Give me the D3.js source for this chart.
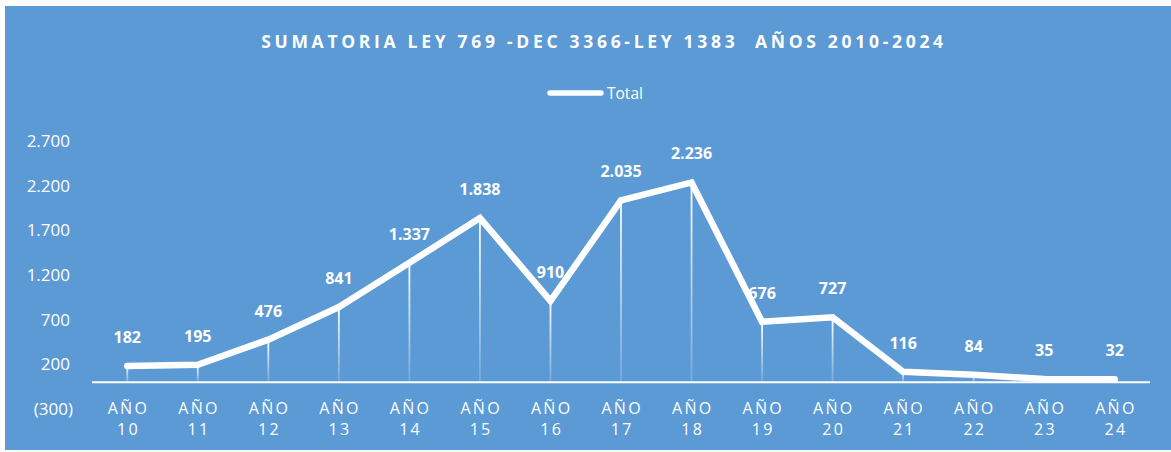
<!DOCTYPE html>
<meta charset="utf-8">
<style>
body { margin: 0; background: #fff; }
text { font-family: "Open Sans", "Noto Sans", sans-serif; fill: #fff; }
.title { font-size: 17.5px; font-weight: 700; letter-spacing: 3.7px; white-space: pre; }
.ylab { font-size: 17px; }
.xlab { font-size: 16px; letter-spacing: 2.3px; }
.dlab { font-size: 16px; font-weight: 700; }
.legend { font-size: 15.5px; }
</style>
<svg width="1171" height="452"></svg>
<script src="https://d3js.org/d3.v7.min.js"></script>
<script>

var categories = ["10","11","12","13","14","15","16","17","18","19","20","21","22","23","24"];
var totals = [182,195,476,841,1337,1838,910,2035,2236,676,727,116,84,35,32];
var yTicks = [-300,200,700,1200,1700,2200,2700];

var svg = d3.select("svg"),
    width = +svg.attr("width"),
    height = +svg.attr("height");

// blue chart area
svg.append("rect")
    .attr("x", 5).attr("y", 6)
    .attr("width", width - 5).attr("height", height - 8)
    .attr("fill", "#5B9AD5");

var x = d3.scaleBand()
    .domain(categories)
    .range([92, 1150]);

var y = d3.scaleLinear()
    .domain([-300, 2700])
    .range([409, 141]);

var fmt = function (v) {
    var s = d3.format(",")(Math.abs(v)).replace(/,/g, ".");
    return v < 0 ? "(" + s + ")" : s;
};

var defs = svg.append("defs");
var grad = defs.append("linearGradient")
    .attr("id", "drop")
    .attr("x1", 0).attr("y1", 0).attr("x2", 0).attr("y2", 1);
grad.append("stop").attr("offset", "0%").attr("stop-color", "#fff").attr("stop-opacity", 1);
grad.append("stop").attr("offset", "100%").attr("stop-color", "#fff").attr("stop-opacity", 0.15);

svg.append("text")
    .attr("class", "title")
    .attr("x", 604).attr("y", 48)
    .attr("text-anchor", "middle")
    .text("SUMATORIA LEY 769 -DEC 3366-LEY 1383  AÑOS 2010-2024");

// legend
svg.append("line")
    .attr("x1", 550).attr("x2", 601)
    .attr("y1", 93).attr("y2", 93)
    .attr("stroke", "#fff").attr("stroke-width", 5.5)
    .attr("stroke-linecap", "round");
svg.append("text")
    .attr("class", "legend")
    .attr("x", 607).attr("y", 99)
    .text("Total");

// y tick labels
svg.append("g").selectAll("text")
    .data(yTicks)
    .enter().append("text")
    .attr("class", "ylab")
    .attr("x", function (d) { return d < 0 ? 73 : 70; })
    .attr("y", function (d) { return y(d) + 6; })
    .attr("text-anchor", "end")
    .text(fmt);

// drop lines
svg.append("g").selectAll("rect")
    .data(totals)
    .enter().append("rect")
    .attr("x", function (d, i) { return x(categories[i]) + x.bandwidth() / 2 - 0.9; })
    .attr("y", function (d) { return y(d); })
    .attr("width", 1.8)
    .attr("height", function (d) { return Math.max(0, y(0) - y(d)); })
    .attr("fill", "url(#drop)");

// x axis line
svg.append("line")
    .attr("x1", 92).attr("x2", 1150)
    .attr("y1", y(0)).attr("y2", y(0))
    .attr("stroke", "#fff").attr("stroke-width", 2);

// x labels
var xl = svg.append("g").selectAll("text")
    .data(categories)
    .enter().append("text")
    .attr("class", "xlab")
    .attr("text-anchor", "middle");
xl.append("tspan")
    .attr("x", function (d) { return x(d) + x.bandwidth() / 2 + 1.2; })
    .attr("y", 414)
    .text("AÑO");
xl.append("tspan")
    .attr("x", function (d) { return x(d) + x.bandwidth() / 2 + 1.2; })
    .attr("y", 435)
    .text(function (d) { return d; });

// main line
var line = d3.line()
    .x(function (d, i) { return x(categories[i]) + x.bandwidth() / 2; })
    .y(function (d) { return y(d); });

svg.append("path")
    .datum(totals)
    .attr("d", line)
    .attr("fill", "none")
    .attr("stroke", "#fff")
    .attr("stroke-width", 6.5)
    .attr("stroke-linejoin", "miter")
    .attr("stroke-linecap", "round");

// data labels
svg.append("g").selectAll("text")
    .data(totals)
    .enter().append("text")
    .attr("class", "dlab")
    .attr("x", function (d, i) { return x(categories[i]) + x.bandwidth() / 2; })
    .attr("y", function (d) { return y(d) - 23; })
    .attr("text-anchor", "middle")
    .text(fmt);

</script>
